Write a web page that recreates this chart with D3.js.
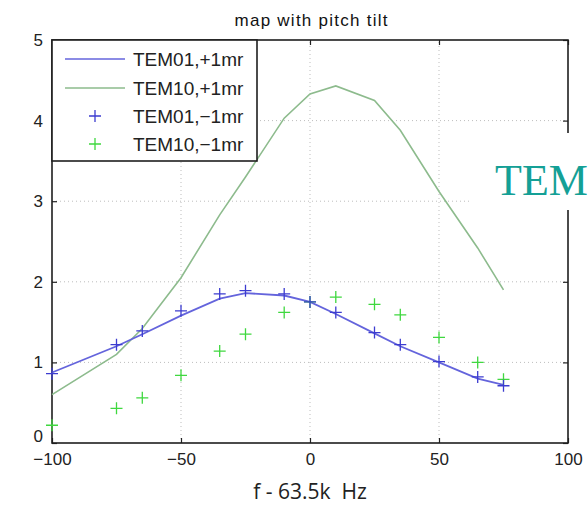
<!DOCTYPE html>
<html>
<head>
<meta charset="utf-8">
<script src="https://cdn.jsdelivr.net/npm/d3@7"></script>
<style>
  html, body { margin: 0; padding: 0; background: #fff; }
  svg { display: block; }
</style>
</head>
<body>
<svg id="chart" width="588" height="506"></svg>
<script>
// Frequency offsets (Hz from 63.5 kHz)
const freq = [-100, -75, -65, -50, -35, -25, -10, 0, 10, 25, 35, 50, 65, 75];
// Mode maps at +1 mrad pitch tilt (lines)
const tem01Plus = [0.875, 1.2, 1.35, 1.58, 1.79, 1.86, 1.83, 1.75, 1.6, 1.36, 1.2, 1.0, 0.8, 0.72];
const tem10Plus = [0.6, 1.1, 1.42, 2.05, 2.83, 3.3, 4.03, 4.33, 4.43, 4.25, 3.88, 3.12, 2.42, 1.9];
// Mode maps at -1 mrad pitch tilt (markers)
const tem01Minus = [0.86, 1.22, 1.39, 1.64, 1.85, 1.89, 1.85, 1.75, 1.62, 1.37, 1.22, 1.01, 0.82, 0.71];
const tem10Minus = [0.22, 0.43, 0.56, 0.84, 1.14, 1.35, 1.62, 1.75, 1.81, 1.72, 1.59, 1.31, 1.0, 0.79];

const xTicks = [-100, -50, 0, 50, 100];
const yTicks = [0, 1, 2, 3, 4, 5];
const legendLabels = ["TEM01,+1mr", "TEM10,+1mr", "TEM01,\u22121mr", "TEM10,\u22121mr"];

const blueLine = "#6464dc", greenLine = "#8dbb8d";
const blueMark = "#3c3cd0", greenMark = "#3fd83f";

const svg = d3.select("#chart");
const x = d3.scaleLinear().domain([-100, 100]).range([52, 568]);
const y = d3.scaleLinear().domain([0, 5]).range([443, 40]);
const font = "'Liberation Sans', Arial, sans-serif";

// dotted grid
const grid = svg.append("g").attr("stroke", "#bdbdbd").attr("stroke-width", 1)
  .attr("stroke-dasharray", "1,3");
grid.selectAll(".gx").data(xTicks.slice(1, -1)).join("line")
  .attr("x1", d => x(d)).attr("x2", d => x(d)).attr("y1", y(0)).attr("y2", y(5));
grid.selectAll(".gy").data(yTicks.slice(1, -1)).join("line")
  .attr("y1", d => y(d)).attr("y2", d => y(d)).attr("x1", x(-100)).attr("x2", x(100));

// axes with inward ticks on all sides
const axisStyle = g => {
  g.select(".domain").remove();
  g.selectAll(".tick line").attr("stroke", "#222").attr("stroke-width", 1.2);
  g.selectAll(".tick text").attr("font-family", font).attr("font-size", 17).attr("fill", "#222");
};
svg.append("g").attr("transform", `translate(0,${y(0)})`)
  .call(d3.axisBottom(x).tickValues(xTicks).tickSizeInner(-5).tickSizeOuter(0).tickPadding(10)
    .tickFormat(d => d < 0 ? "\u2212" + Math.abs(d) : d))
  .call(axisStyle);
svg.append("g").attr("transform", `translate(0,${y(5)})`)
  .call(d3.axisTop(x).tickValues(xTicks).tickSizeInner(-5).tickSizeOuter(0).tickFormat(""))
  .call(axisStyle);
const yAxisG = svg.append("g").attr("transform", `translate(${x(-100)},0)`)
  .call(d3.axisLeft(y).tickValues(yTicks).tickSizeInner(-5).tickSizeOuter(0).tickPadding(9)
    .tickFormat(d3.format("d")))
  .call(axisStyle);
// lift the zero label clear of the −100 label beneath it
yAxisG.selectAll(".tick text").filter(d => d === 0).attr("dy", "-0.1em");
svg.append("g").attr("transform", `translate(${x(100)},0)`)
  .call(d3.axisRight(y).tickValues(yTicks).tickSizeInner(-5).tickSizeOuter(0).tickFormat(""))
  .call(axisStyle);

// plot frame
svg.append("rect").attr("x", x(-100)).attr("y", y(5))
  .attr("width", x(100) - x(-100)).attr("height", y(0) - y(5))
  .attr("fill", "none").attr("stroke", "#1e1e1e").attr("stroke-width", 1.6);

// lines
const line = vals => d3.line().x((d, i) => x(freq[i])).y(d => y(d))(vals);
svg.append("path").attr("d", line(tem10Plus)).attr("fill", "none")
  .attr("stroke", greenLine).attr("stroke-width", 1.6);
svg.append("path").attr("d", line(tem01Plus)).attr("fill", "none")
  .attr("stroke", blueLine).attr("stroke-width", 1.8);

// plus markers
const plus = (sel, cx, cy, color) => {
  sel.append("path").attr("d", `M${cx - 6},${cy}H${cx + 6}M${cx},${cy - 6}V${cy + 6}`)
    .attr("stroke", color).attr("stroke-width", 1.3).attr("fill", "none");
};
const marks = svg.append("g");
tem10Minus.forEach((v, i) => plus(marks, x(freq[i]), y(v), greenMark));
tem01Minus.forEach((v, i) => plus(marks, x(freq[i]), y(v), blueMark));

// legend
const lg = svg.append("g");
lg.append("rect").attr("x", 52).attr("y", 40).attr("width", 205).attr("height", 121)
  .attr("fill", "#fff").attr("stroke", "#1e1e1e").attr("stroke-width", 1.6);
const rowY = [59, 88, 116, 144];
const colors = [blueLine, greenLine, blueMark, greenMark];
legendLabels.forEach((lab, i) => {
  if (i < 2) {
    lg.append("line").attr("x1", 65).attr("x2", 125).attr("y1", rowY[i]).attr("y2", rowY[i])
      .attr("stroke", colors[i]).attr("stroke-width", 1.6);
  } else {
    plus(lg, 95, rowY[i], colors[i]);
  }
  lg.append("text").attr("x", 133).attr("y", rowY[i] + 7)
    .attr("font-family", font).attr("font-size", 19).attr("fill", "#222").text(lab);
});

// title and axis label
svg.append("text").attr("x", 311).attr("y", 26).attr("text-anchor", "middle")
  .attr("font-family", font).attr("font-size", 17).attr("fill", "#111")
  .attr("textLength", 153).attr("lengthAdjust", "spacing").text("map with pitch tilt");
svg.append("text").attr("x", 310).attr("y", 499).attr("text-anchor", "middle")
  .attr("font-family", "'Open Sans', 'Liberation Sans', sans-serif").attr("font-size", 21)
  .attr("fill", "#222").attr("xml:space", "preserve").text("f - 63.5k  Hz");

// overlaid caption fragment
svg.append("rect").attr("x", 470).attr("y", 133).attr("width", 118).attr("height", 77).attr("fill", "#fff");
svg.append("text").attr("x", 495).attr("y", 195)
  .attr("font-family", "'Liberation Serif', 'Times New Roman', serif").attr("font-size", 44)
  .attr("fill", "#14a096").text("TEM");
</script>
</body>
</html>
